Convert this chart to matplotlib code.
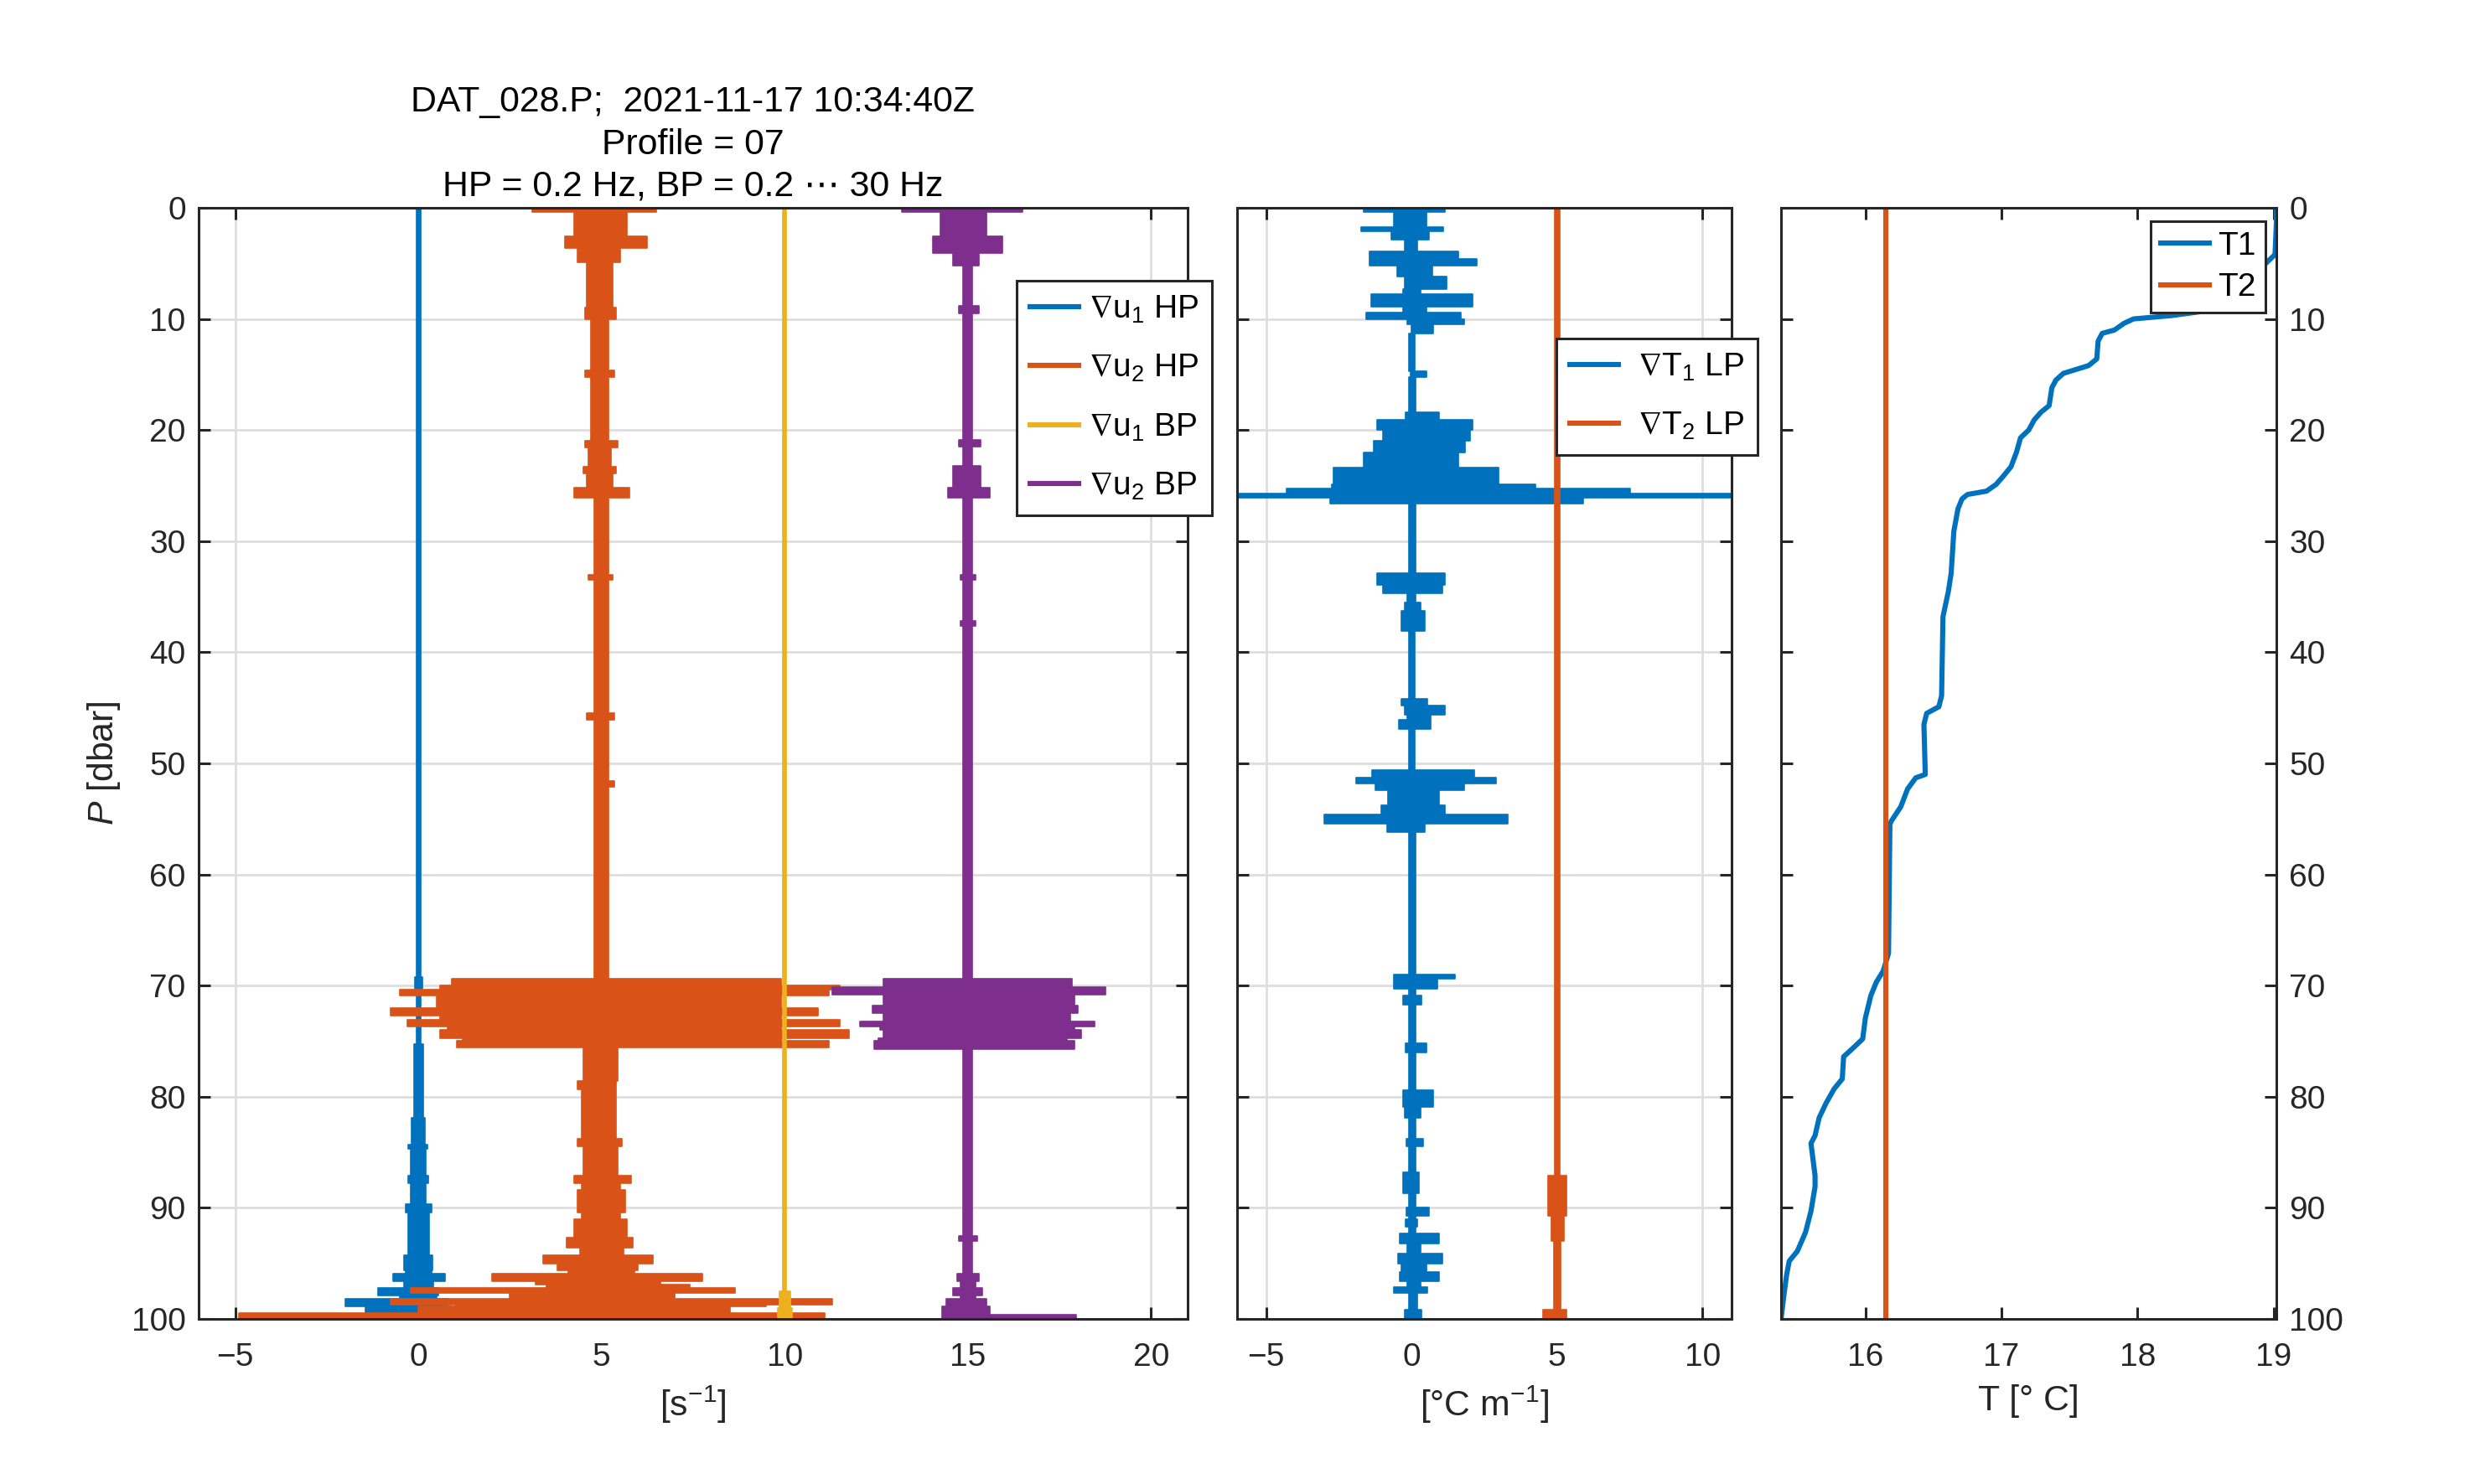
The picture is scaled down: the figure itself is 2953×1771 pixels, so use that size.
import matplotlib
matplotlib.use("Agg")
import matplotlib.pyplot as plt
from matplotlib.lines import Line2D

plt.rcParams['font.family'] = ['Liberation Sans', 'DejaVu Sans']
plt.rcParams['mathtext.fontset'] = 'custom'
plt.rcParams['mathtext.rm'] = 'Liberation Sans'
plt.rcParams['mathtext.it'] = 'Liberation Sans:italic'
plt.rcParams['mathtext.bf'] = 'Liberation Sans:bold'
plt.rcParams['mathtext.fallback'] = 'stixsans'
plt.rcParams['font.size'] = 14

# colours (MATLAB default order)
c_blue = '#0072BD'
c_orange = '#D95319'
c_yellow = '#EDB120'
c_purple = '#7E2F8E'
c_axis = '#262626'
c_grid = '#dedede'

# ---- panel 1: shear probes, envelopes read from the profile ----
# each entry: depth where the segment starts [dbar], min and max value
p_u1hp = [0.0, 69.2, 70.3, 75.3, 81.9, 84.3, 84.7, 87.1, 87.8, 89.7, 90.4, 94.3,
          95.6, 95.9, 96.6, 97.2, 97.9, 98.2, 98.9, 99.6]
lo_u1hp = [-0.06, -0.1, -0.06, -0.13, -0.18, -0.28, -0.2, -0.28, -0.2, -0.35, -0.28, -0.4,
           -0.35, -0.7, -0.4, -1.1, -0.5, -2.0, -1.45, -2.2]
hi_u1hp = [0.06, 0.1, 0.06, 0.13, 0.18, 0.25, 0.2, 0.28, 0.2, 0.35, 0.3, 0.38,
           0.35, 0.72, 0.4, 0.55, 0.5, 0.8, 0.9, 0.9]

p_u2hp = [0.0, 0.4, 2.6, 3.6, 4.9, 9.0, 10.0, 14.6, 15.2, 21.0, 21.6, 23.3, 23.9, 25.2,
          26.1, 33.0, 33.5, 45.5, 46.1, 51.6, 52.1, 69.4, 70.0, 70.4, 70.9, 72.0, 72.7,
          73.1, 73.7, 74.0, 74.7, 75.0, 75.6, 78.6, 79.3, 83.8, 84.5, 87.1, 87.8, 88.4,
          90.4, 91.0, 92.7, 93.6, 94.3, 95.0, 95.6, 95.9, 96.6, 96.9, 97.2, 97.7, 98.2,
          98.7, 98.9, 99.5]
lo_u2hp = [3.1, 4.25, 4.0, 4.35, 4.6, 4.55, 4.7, 4.55, 4.7, 4.55, 4.65, 4.5, 4.6, 4.25,
           4.8, 4.65, 4.8, 4.6, 4.8, 4.8, 4.8, 0.9, 0.6, -0.5, 0.5, -0.75, 0.6,
           -0.3, 0.8, 0.6, 1.2, 1.05, 4.5, 4.35, 4.45, 4.35, 4.5, 4.25, 4.45, 4.35,
           4.45, 4.25, 4.05, 4.4, 3.4, 3.8, 4.1, 2.0, 3.2, 3.5, -0.2, 2.5, -0.75,
           1.0, 0.0, -4.9]
hi_u2hp = [6.5, 5.7, 6.25, 5.5, 5.3, 5.4, 5.2, 5.35, 5.2, 5.45, 5.25, 5.4, 5.3, 5.75,
           5.2, 5.3, 5.2, 5.35, 5.2, 5.35, 5.2, 9.9, 11.5, 11.2, 9.9, 10.9, 9.9,
           11.5, 9.9, 11.75, 9.9, 11.2, 5.45, 5.4, 5.4, 5.55, 5.45, 5.8, 5.5, 5.65,
           5.5, 5.7, 5.85, 5.6, 6.4, 6.0, 5.9, 7.75, 6.6, 7.4, 8.65, 7.0, 11.3,
           9.5, 8.5, 11.1]

p_u1bp = [0.0, 97.5, 99.0]
lo_u1bp = [9.95, 9.85, 9.8]
hi_u1bp = [10.05, 10.15, 10.2]

p_u2bp = [0.0, 0.4, 2.6, 4.1, 5.2, 8.8, 9.5, 20.9, 21.5, 23.2, 25.2, 26.1, 33.0, 33.5,
          37.2, 37.6, 69.4, 70.1, 70.8, 71.8, 72.5, 73.2, 73.7, 74.0, 74.7, 75.0, 75.7,
          92.5, 93.0, 95.9, 96.6, 97.2, 97.9, 98.2, 98.9, 99.6]
lo_u2bp = [13.2, 14.25, 14.05, 14.6, 14.87, 14.75, 14.87, 14.75, 14.87, 14.6, 14.45, 14.87,
           14.8, 14.87, 14.8, 14.87, 12.7, 11.3, 12.7, 12.4, 12.7, 12.05, 12.6, 12.7, 12.55,
           12.45, 14.87, 14.75, 14.87, 14.7, 14.8, 14.6, 14.8, 14.4, 14.3, 14.3]
hi_u2bp = [16.5, 15.5, 15.95, 15.3, 15.13, 15.3, 15.13, 15.35, 15.13, 15.35, 15.6, 15.13,
           15.2, 15.13, 15.2, 15.13, 17.85, 18.75, 17.9, 18.0, 17.8, 18.45, 17.9, 18.1, 17.7,
           17.9, 15.13, 15.25, 15.13, 15.3, 15.2, 15.4, 15.2, 15.5, 15.6, 17.95]

# ---- panel 2: thermistor gradients ----
p_t1 = [0.0, 0.4, 1.7, 2.1, 2.9, 3.9, 4.6, 5.2, 6.2, 7.3, 7.8, 8.9, 9.4, 10.0, 10.5, 11.3,
        14.7, 15.2, 18.4, 19.1, 20.0, 21.0, 22.0, 23.4, 24.9, 25.3, 25.7, 26.1, 26.6, 32.9,
        33.9, 34.7, 35.5, 36.3, 38.1, 44.2, 44.8, 45.6, 46.1, 46.9, 50.6, 51.3, 51.8, 52.4,
        53.8, 54.6, 55.4, 56.2, 69.0, 69.4, 70.3, 70.9, 71.7, 75.2, 76.0, 79.4, 80.9, 81.9,
        83.8, 84.5, 86.8, 88.7, 90.0, 90.7, 91.0, 91.7, 92.3, 93.2, 94.1, 95.0, 95.8, 96.6,
        97.1, 97.7, 99.2]
lo_t1 = [-1.65, -0.6, -1.75, -0.7, -0.25, -1.45, -1.45, -0.5, -0.25, -0.3, -1.4, -0.3, -1.55,
         -0.15, 0.0, -0.1, -0.05, -0.1, -0.2, -1.2, -1.0, -1.3, -1.65, -2.7, -2.75, -4.3,
         -6.5, -2.8, -0.1, -1.2, -1.0, -0.15, -0.25, -0.35, -0.1, -0.35, -0.25, -0.15, -0.45,
         -0.1, -1.35, -1.9, -1.25, -0.8, -1.05, -3.0, -0.85, -0.1, -0.6, -0.6, -0.1, -0.3,
         -0.1, -0.2, -0.1, -0.3, -0.25, -0.1, -0.17, -0.1, -0.3, -0.1, -0.18, -0.1, -0.22,
         -0.1, -0.42, -0.15, -0.47, -0.35, -0.4, -0.15, -0.6, -0.1, -0.25]
hi_t1 = [1.15, 0.5, 1.1, 0.6, 0.2, 1.6, 2.25, 0.7, 1.2, 0.3, 2.1, 0.5, 1.7, 1.8, 0.75, 0.12,
         0.5, 0.15, 0.95, 2.1, 2.0, 1.85, 1.6, 3.0, 4.25, 7.5, 11.5, 5.9, 0.15, 1.15, 1.05,
         0.15, 0.3, 0.45, 0.12, 0.55, 1.15, 0.65, 0.65, 0.12, 2.15, 2.9, 1.8, 0.95, 1.15,
         3.3, 0.45, 0.15, 1.5, 0.9, 0.15, 0.35, 0.15, 0.5, 0.15, 0.75, 0.3, 0.15, 0.4, 0.15,
         0.25, 0.15, 0.6, 0.15, 0.2, 0.15, 0.95, 0.3, 1.05, 0.5, 0.95, 0.3, 0.55, 0.2, 0.35]

p_t2 = [0.0, 87.1, 90.7, 93.0, 99.2]
lo_t2 = [4.92, 4.68, 4.8, 4.9, 4.52]
hi_t2 = [5.08, 5.33, 5.25, 5.12, 5.33]

# ---- panel 3: temperature profile ----
P_T1 = [0, 1.3, 4.2, 5.5, 7.0, 9.2, 9.7, 10.0, 10.4, 11.0, 11.3, 12.0, 13.6, 14.2, 14.9,
        15.5, 16.2, 17.8, 18.4, 19.1, 20.0, 20.7, 22.0, 23.3, 24.2, 24.9, 25.5, 25.8, 26.2,
        27.1, 29.1, 32.9, 34.5, 36.8, 43.9, 44.9, 45.5, 46.5, 51.0, 51.3, 52.3, 53.9, 55.2,
        55.5, 67.1, 68.7, 69.7, 70.9, 72.9, 74.8, 75.5, 76.4, 78.4, 79.3, 80.6, 81.9, 83.5,
        84.2, 87.1, 88.1, 90.3, 92.2, 93.9, 94.8, 96.1, 98.0, 100]
T1 = [19.02, 19.02, 19.01, 18.9, 18.75, 18.55, 18.25, 17.97, 17.9, 17.83, 17.74, 17.71, 17.7,
      17.64, 17.455, 17.4, 17.37, 17.35, 17.29, 17.24, 17.2, 17.14, 17.11, 17.07, 17.01,
      16.96, 16.89, 16.75, 16.71, 16.68, 16.65, 16.63, 16.61, 16.57, 16.56, 16.54, 16.45,
      16.43, 16.44, 16.37, 16.31, 16.26, 16.19, 16.18, 16.17, 16.13, 16.08, 16.04, 16.0,
      15.98, 15.92, 15.84, 15.83, 15.77, 15.71, 15.66, 15.63, 15.6, 15.63, 15.63, 15.6,
      15.56, 15.5, 15.44, 15.42, 15.40, 15.38]
P_T2 = [0, 100]
T2 = [16.15, 16.15]

title_lines = ['DAT_028.P;  2021-11-17 10:34:40Z', 'Profile = 07', 'HP = 0.2 Hz, BP = 0.2 \u22ef 30 Hz']


def trace(ax, p, lo, hi, color):
    # close the last segment at the bottom of the profile
    pp = list(p) + [100.0]
    ll = list(lo) + [lo[-1]]
    hh = list(hi) + [hi[-1]]
    ax.fill_betweenx(pp, ll, hh, step='post', facecolor=color, edgecolor=color, lw=0.6)


def style(ax):
    for s in ax.spines.values():
        s.set_color(c_axis)
        s.set_linewidth(1.1)
    ax.tick_params(direction='in', length=5, width=1.1, colors=c_axis,
                   top=True, right=True, labelsize=14)
    ax.tick_params(axis='x', pad=10)
    ax.tick_params(axis='y', pad=5.5)
    ax.set_ylim(100, 0)
    ax.set_yticks(range(0, 101, 10))


fig = plt.figure(figsize=(14.765, 8.855), dpi=200)
ax1 = fig.add_axes([0.08026, 0.11124, 0.39959, 0.74873])
ax2 = fig.add_axes([0.49983, 0.11124, 0.19980, 0.74873])
ax3 = fig.add_axes([0.71961, 0.11124, 0.20014, 0.74873])

# panel 1
trace(ax1, p_u1hp, lo_u1hp, hi_u1hp, c_blue)
trace(ax1, p_u2hp, lo_u2hp, hi_u2hp, c_orange)
trace(ax1, p_u1bp, lo_u1bp, hi_u1bp, c_yellow)
trace(ax1, p_u2bp, lo_u2bp, hi_u2bp, c_purple)
style(ax1)
ax1.set_xlim(-6, 21)
ax1.set_xticks([-5, 0, 5, 10, 15, 20])
ax1.grid(True, color=c_grid, lw=1.0)
ax1.set_axisbelow(True)
ax1.set_xlabel('[s$^{-1}$]', fontsize=15.4, color=c_axis, labelpad=5)
ax1.set_ylabel('$P$ [dbar]', fontsize=15.4, color=c_axis, labelpad=4)

leg_kw = dict(fontsize=14, frameon=True, fancybox=False, framealpha=1, edgecolor=c_axis,
              borderaxespad=0, handlelength=1.5, bbox_transform=fig.transFigure, loc='upper left')
h1 = [Line2D([], [], color=c, lw=2.2) for c in (c_blue, c_orange, c_yellow, c_purple)]
lab1 = [r'$\nabla$u$_1$ HP', r'$\nabla$u$_2$ HP', r'$\nabla$u$_1$ BP', r'$\nabla$u$_2$ BP']
lg1 = ax1.legend(h1, lab1, bbox_to_anchor=(0.4108, 0.8108), handletextpad=0.3,
                 labelspacing=0.85, borderpad=0.4, **leg_kw)
lg1.get_frame().set_linewidth(1.1)

# panel 2
trace(ax2, p_t1, lo_t1, hi_t1, c_blue)
trace(ax2, p_t2, lo_t2, hi_t2, c_orange)
style(ax2)
ax2.set_xlim(-6, 11)
ax2.set_xticks([-5, 0, 5, 10])
ax2.tick_params(axis='y', labelleft=False)
ax2.grid(True, color=c_grid, lw=1.0)
ax2.set_axisbelow(True)
ax2.set_xlabel('[\u00b0C m$^{-1}$]', fontsize=15.4, color=c_axis, labelpad=5)
h2 = [Line2D([], [], color=c, lw=2.2) for c in (c_blue, c_orange)]
lg2 = ax2.legend(h2, [r'$\nabla$T$_1$ LP', r'$\nabla$T$_2$ LP'], bbox_to_anchor=(0.6289, 0.7719),
                 handletextpad=0.6, labelspacing=0.85, borderpad=0.4, **leg_kw)
lg2.get_frame().set_linewidth(1.1)

# panel 3
ax3.plot(T1, P_T1, color=c_blue, lw=2.2)
ax3.plot(T2, P_T2, color=c_orange, lw=2.2)
style(ax3)
ax3.set_xlim(15.38, 19.02)
ax3.set_xticks([16, 17, 18, 19])
ax3.tick_params(axis='y', labelleft=False, labelright=True)
ax3.set_xlabel('T [\u00b0 C]', fontsize=15.4, color=c_axis, labelpad=5)
lg3 = ax3.legend(['T1', 'T2'], bbox_to_anchor=(0.869, 0.8509), handletextpad=0.25,
                 labelspacing=0.35, borderpad=0.3, **leg_kw)
lg3.get_frame().set_linewidth(1.1)

# three-line title over the first panel
for txt, yb in zip(title_lines, [0.9249, 0.8961, 0.8682]):
    fig.text(0.2800, yb, txt, ha='center', va='baseline', fontsize=15.4, color='black')

fig.savefig('out.png', dpi=200)
